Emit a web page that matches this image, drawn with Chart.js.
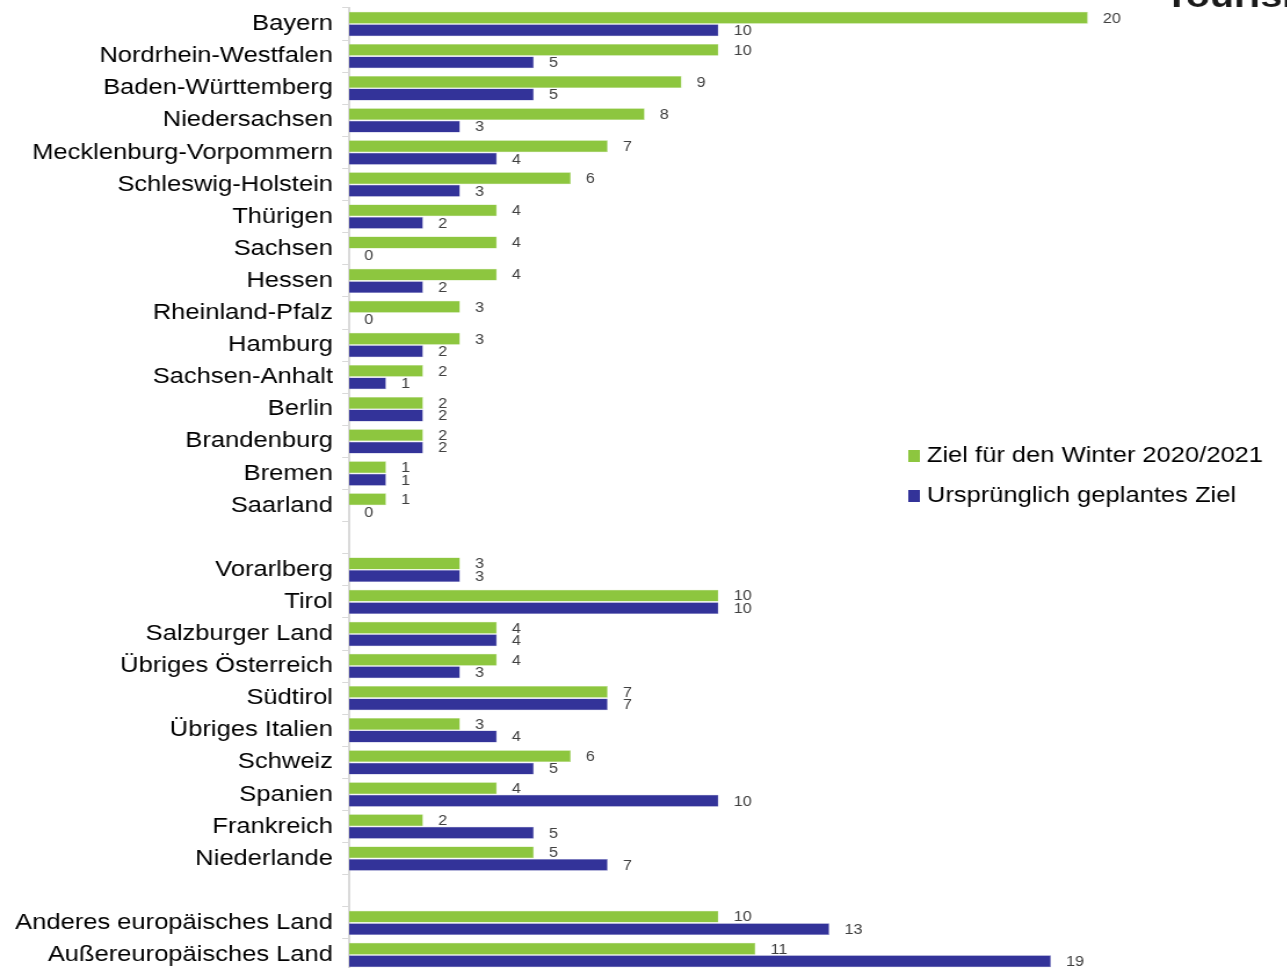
<!DOCTYPE html>
<html>
<head>
<meta charset="utf-8">
<script src="https://cdn.jsdelivr.net/npm/chart.js@4.4.0/dist/chart.umd.min.js"></script>
<style>
  html, body { margin: 0; padding: 0; background: #fff; overflow: hidden; }
  /* Vorlage ist horizontal gestreckt -> Canvas schmaler zeichnen und strecken */
  .wrap { position: relative; width: 1110px; height: 976px; transform: scaleX(1.16); transform-origin: 0 0; }
</style>
</head>
<body>
<div class="wrap"><canvas id="chart"></canvas></div>
<script>
// Kategorien (leere Einträge = Abstand zwischen Gruppen)
const regions = [
  "Bayern", "Nordrhein-Westfalen", "Baden-Württemberg", "Niedersachsen",
  "Mecklenburg-Vorpommern", "Schleswig-Holstein", "Thürigen", "Sachsen",
  "Hessen", "Rheinland-Pfalz", "Hamburg", "Sachsen-Anhalt", "Berlin",
  "Brandenburg", "Bremen", "Saarland",
  "",
  "Vorarlberg", "Tirol", "Salzburger Land", "Übriges Österreich", "Südtirol",
  "Übriges Italien", "Schweiz", "Spanien", "Frankreich", "Niederlande",
  "",
  "Anderes europäisches Land", "Außereuropäisches Land"
];
const zielWinter = [20, 10, 9, 8, 7, 6, 4, 4, 4, 3, 3, 2, 2, 2, 1, 1, null,
  3, 10, 4, 4, 7, 3, 6, 4, 2, 5, null, 10, 11];
const zielGeplant = [10, 5, 5, 3, 4, 3, 2, 0, 2, 0, 2, 1, 2, 2, 1, 0, null,
  3, 10, 4, 3, 7, 4, 5, 10, 5, 7, null, 13, 19];
const seriesNames = ["Ziel für den Winter 2020/2021", "Ursprünglich geplantes Ziel"];
const seriesColors = ["#8dc63f", "#333399"];
const titleText = "Tourismus";

// Werte an die Balkenenden schreiben
const valueLabels = {
  id: "valueLabels",
  afterDatasetsDraw(chart) {
    const ctx = chart.ctx;
    ctx.save();
    ctx.font = "14px 'Liberation Sans', Arial";
    ctx.fillStyle = "#404040";
    ctx.textBaseline = "middle";
    ctx.textAlign = "left";
    chart.data.datasets.forEach((ds, i) => {
      chart.getDatasetMeta(i).data.forEach((bar, idx) => {
        const v = ds.data[idx];
        if (v === null) return;
        ctx.fillText(String(v), bar.x + 13, bar.y + 1);
      });
    });
    ctx.restore();
  }
};

// Legende rechts und abgeschnittener Titel oben
const extras = {
  id: "extras",
  afterDraw(chart) {
    const ctx = chart.ctx;
    ctx.save();
    ctx.font = "bold 34px 'Liberation Sans', Arial";
    ctx.fillStyle = "#1a1a1a";
    ctx.textBaseline = "alphabetic";
    ctx.fillText(titleText, 1004, 7);

    ctx.font = "22px 'Liberation Sans', Arial";
    ctx.textBaseline = "middle";
    seriesNames.forEach((name, i) => {
      const y = 456 + i * 40;
      ctx.fillStyle = seriesColors[i];
      ctx.fillRect(783, y - 6, 10, 12);
      ctx.fillStyle = "#000";
      ctx.fillText(name, 799, y);
    });
    ctx.restore();
  }
};

new Chart(document.getElementById("chart"), {
  type: "bar",
  data: {
    labels: regions,
    datasets: [
      {
        label: seriesNames[0],
        data: zielWinter,
        backgroundColor: seriesColors[0],
        borderColor: "#b5dc84",
        borderWidth: 0.5
      },
      {
        label: seriesNames[1],
        data: zielGeplant,
        backgroundColor: seriesColors[1],
        borderColor: "#8c8cc8",
        borderWidth: 0.5
      }
    ]
  },
  options: {
    indexAxis: "y",
    responsive: true,
    maintainAspectRatio: false,
    animation: false,
    layout: { padding: { top: 8, bottom: 5, left: 0, right: 13 } },
    datasets: { bar: { categoryPercentage: 0.78, barPercentage: 0.95 } },
    plugins: {
      legend: { display: false },
      tooltip: { enabled: false }
    },
    scales: {
      x: {
        display: false,
        min: 0,
        max: 25
      },
      y: {
        afterFit: (s) => {
          s.width = 301;
          s.paddingTop = 0;
          s.paddingBottom = 0;
        },
        grid: {
          drawOnChartArea: false,
          drawTicks: true,
          tickLength: 6,
          color: "#d9d9d9",
          offset: true
        },
        border: { color: "#d9d9d9", width: 2 },
        ticks: {
          autoSkip: false,
          padding: 8,
          color: "#000",
          font: { family: "'Liberation Sans', Arial", size: 22 }
        }
      }
    }
  },
  plugins: [valueLabels, extras]
});
</script>
</body>
</html>
